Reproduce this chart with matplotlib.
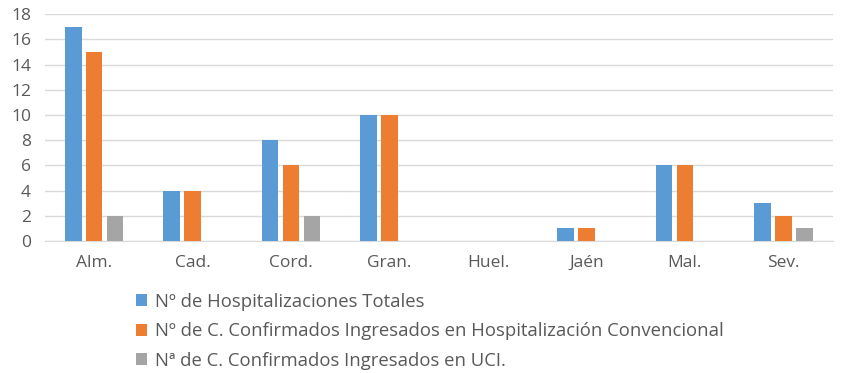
import matplotlib
matplotlib.use("Agg")
import matplotlib.pyplot as plt
import numpy as np

categories = ["Alm.", "Cad.", "Cord.", "Gran.", "Huel.", "Jaén", "Mal.", "Sev."]
totales = [17, 4, 8, 10, 0, 1, 6, 3]
convencional = [15, 4, 6, 10, 0, 1, 6, 2]
uci = [2, 0, 2, 0, 0, 0, 0, 1]
series_labels = [
    "Nº de Hospitalizaciones Totales",
    "Nº de C. Confirmados Ingresados en Hospitalización Convencional",
    "Nª de C. Confirmados Ingresados en UCI.",
]
colors = ["#5B9BD5", "#ED7D31", "#A5A5A5"]
yticks = list(range(0, 19, 2))

plt.rcParams['font.family'] = ['Open Sans', 'DejaVu Sans']
txt = "#595959"

fig = plt.figure(figsize=(8.47, 3.73), dpi=100)
ax = fig.add_axes([0.053, 0.354, 0.93, 0.608])

x = np.arange(len(categories))
w = 0.17
step = 0.213
handles = []
for i, (vals, c, lab) in enumerate(zip([totales, convencional, uci], colors, series_labels)):
    h = ax.bar(x + (i - 1) * step, vals, width=w, color=c, label=lab, zorder=3)
    handles.append(h)

ax.set_xlim(-0.5, len(categories) - 0.5)
ax.set_ylim(0, 18)
ax.set_yticks(yticks)
ax.set_xticks(x)
ax.set_xticklabels(categories)
ax.grid(axis='y', color="#D9D9D9", linewidth=1, zorder=0)
for s in ['top', 'right', 'left']:
    ax.spines[s].set_visible(False)
ax.spines['bottom'].set_color("#D9D9D9")
ax.tick_params(axis='both', length=0, colors=txt, labelsize=12.5)
ax.tick_params(axis='x', pad=10)
ax.tick_params(axis='y', pad=10)

leg = fig.legend(handles=handles, loc='upper left', bbox_to_anchor=(0.152, 0.235),
                 frameon=False, fontsize=13.3, labelcolor=txt, handlelength=0.6,
                 handleheight=0.6, handletextpad=0.4, labelspacing=0.62, borderaxespad=0)

fig.savefig("out.png", dpi=100, facecolor="white")
